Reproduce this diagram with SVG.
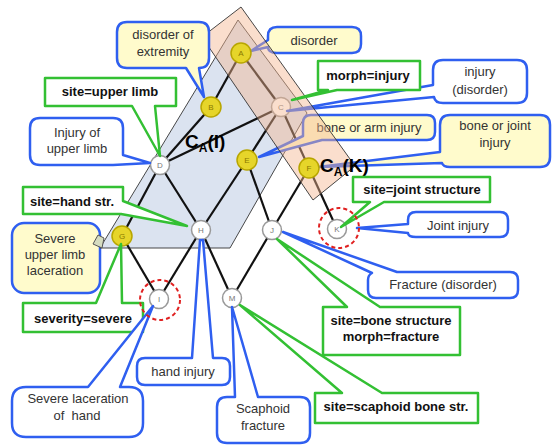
<svg xmlns="http://www.w3.org/2000/svg" width="553" height="445" viewBox="0 0 553 445">
<style>
.bw{fill:#fff;stroke:#2f5ff0;stroke-width:2.5;stroke-linejoin:round}
.by{fill:#fffbcc;stroke:#2f5ff0;stroke-width:2.5;stroke-linejoin:round}
.gc{fill:#fff;stroke:#33c033;stroke-width:2.5;stroke-linejoin:round}
.t{font-family:"Liberation Sans",Arial,sans-serif;font-size:13px;fill:#333;text-anchor:middle}
.tg{font-family:"Liberation Sans",Arial,sans-serif;font-size:13px;font-weight:bold;fill:#111;text-anchor:middle}
.ca{font-family:"Liberation Sans",Arial,sans-serif;font-size:19px;font-weight:bold;fill:#000}
.edge{stroke:#111;stroke-width:2.2;fill:none}
.nw{fill:#fff;stroke:#999;stroke-width:1.5}
.ny{fill:#e6d52a;stroke:#b8a600;stroke-width:1.5}
.nl{font-family:"Liberation Sans",Arial,sans-serif;font-size:8px;fill:#777;text-anchor:middle}
.nly{font-family:"Liberation Sans",Arial,sans-serif;font-size:8px;fill:#8a7a00;text-anchor:middle}
.ring{fill:none;stroke:#e02020;stroke-width:2;stroke-dasharray:4 3}
</style>

<g id="callout-severe-upper-limb">
<rect class="by" x="12" y="223" width="88" height="70" rx="12"/>
<text class="t" x="55" y="243">Severe</text>
<text class="t" x="55" y="259">upper limb</text>
<text class="t" x="55" y="275">laceration</text>
</g>

<g id="region-CA-I">
<polygon points="238,20 307,113 230,248 100,248" fill="#dbe3f0" stroke="#333" stroke-width="0.9"/>
<polygon points="93,244 98,235 104,238 102,248" fill="#d5dcc0" stroke="#555" stroke-width="1"/>
</g>

<g id="connectors">
<line class="edge" x1="241" y1="53" x2="211" y2="107"/>
<line class="edge" x1="241" y1="53" x2="281" y2="107"/>
<line class="edge" x1="211" y1="107" x2="160" y2="165"/>
<line class="edge" x1="160" y1="165" x2="281" y2="107"/>
<line class="edge" x1="281" y1="107" x2="247" y2="160"/>
<line class="edge" x1="281" y1="107" x2="309" y2="168"/>
<line class="edge" x1="160" y1="165" x2="122" y2="236"/>
<line class="edge" x1="160" y1="165" x2="201" y2="230"/>
<line class="edge" x1="247" y1="160" x2="201" y2="230"/>
<line class="edge" x1="247" y1="160" x2="272" y2="230"/>
<line class="edge" x1="309" y1="168" x2="272" y2="230"/>
<line class="edge" x1="309" y1="168" x2="337" y2="229"/>
<line class="edge" x1="122" y1="236" x2="159" y2="299"/>
<line class="edge" x1="201" y1="230" x2="159" y2="299"/>
<line class="edge" x1="201" y1="230" x2="232" y2="298"/>
<line class="edge" x1="272" y1="230" x2="232" y2="298"/>
</g>

<g id="node-C"><circle class="nw" cx="281" cy="107" r="9.5"/><text class="nl" x="281" y="110">C</text></g>
<g id="node-D"><circle class="nw" cx="160" cy="165" r="9.5"/><text class="nl" x="160" y="168">D</text></g>
<g id="node-H"><circle class="nw" cx="201" cy="230" r="9.5"/><text class="nl" x="201" y="233">H</text></g>
<g id="node-J"><circle class="nw" cx="272" cy="230" r="9.5"/><text class="nl" x="272" y="233">J</text></g>
<g id="node-K"><circle class="nw" cx="337" cy="229" r="9.5"/><text class="nl" x="337" y="232">K</text></g>
<g id="node-I"><circle class="nw" cx="159" cy="299" r="9.5"/><text class="nl" x="159" y="302">I</text></g>
<g id="node-M"><circle class="nw" cx="232" cy="298" r="9.5"/><text class="nl" x="232" y="301">M</text></g>

<g id="callout-disorder">
<path class="by" d="M277,27 H352 Q361,27 361,36 V44 Q361,53 352,53 H277 Q268,53 268,47 L251,51 L268,40 V36 Q268,27 277,27 Z"/>
<text class="t" x="314" y="45">disorder</text>
</g>
<g id="callout-injury-disorder">
<path class="bw" d="M443,60 H517 Q527,60 527,70 V93 Q527,103 517,103 H443 Q435,103 434,97 L287,111 L433,85 V70 Q433,60 443,60 Z"/>
<text class="t" x="480" y="76">injury</text>
<text class="t" x="480" y="94">(disorder)</text>
</g>
<g id="callout-bone-arm">
<path class="by" d="M311,115 H427 Q435,115 435,123 V132 Q435,140 427,140 H322 L259,157 L303,136 V123 Q303,115 311,115 Z"/>
<text class="t" x="369" y="132">bone or arm injury</text>
</g>
<g id="callout-bone-joint">
<path class="by" d="M450,115 H540 Q550,115 550,125 V157 Q550,167 540,167 H450 Q443,167 442,163 L318,167 L440,152 V125 Q440,115 450,115 Z"/>
<text class="t" x="495" y="130">bone or joint</text>
<text class="t" x="495" y="147">injury</text>
</g>

<g id="region-CA-K">
<polygon points="241,7 202,37 313,200 355,166" fill="rgb(244,182,144)" fill-opacity="0.45" stroke="#333" stroke-width="0.9"/>
</g>

<g id="node-A"><circle class="ny" cx="241" cy="53" r="10"/><text class="nly" x="241" y="56">A</text></g>
<g id="node-B"><circle class="ny" cx="211" cy="107" r="10"/><text class="nly" x="211" y="110">B</text></g>
<g id="node-E"><circle class="ny" cx="247" cy="160" r="10"/><text class="nly" x="247" y="163">E</text></g>
<g id="node-F"><circle class="ny" cx="309" cy="168" r="10"/><text class="nly" x="309" y="171">F</text></g>
<g id="node-G"><circle class="ny" cx="122" cy="236" r="10"/><text class="nly" x="122" y="239">G</text></g>

<g id="label-CA-I"><text class="ca" x="185" y="148">C<tspan font-size="12" dy="4">A</tspan><tspan dy="-4">(I)</tspan></text></g>
<g id="label-CA-K"><text class="ca" x="320" y="172">C<tspan font-size="12" dy="4">A</tspan><tspan dy="-4">(K)</tspan></text></g>

<g id="callout-disorder-extremity">
<path class="by" d="M127,22 H199 Q209,22 209,32 V58 Q209,68 199,68 L204,97 L186,68 H127 Q117,68 117,58 V32 Q117,22 127,22 Z"/>
<text class="t" x="163" y="39">disorder of</text>
<text class="t" x="163" y="56">extremity</text>
</g>
<g id="callout-site-upper-limb">
<path class="gc" d="M45,78 H176 V106 H155 L160,156 L132,106 H45 Z"/>
<text class="tg" x="110" y="96">site=upper limb</text>
</g>
<g id="callout-injury-upper-limb">
<path class="bw" d="M40,118 H113 Q123,118 123,128 V155 L150,163 L113,165 H40 Q30,165 30,155 V128 Q30,118 40,118 Z"/>
<text class="t" x="77" y="137">Injury of</text>
<text class="t" x="77" y="153">upper limb</text>
</g>
<g id="callout-morph-injury">
<path class="gc" d="M318,61 H420 V90 H337 L292,100 L328,90 H318 Z"/>
<text class="tg" x="368" y="80">morph=injury</text>
</g>
<g id="callout-site-hand">
<path class="gc" d="M23,187 H123 V201 L187,226 L121,214 H23 Z"/>
<text class="tg" x="72" y="206">site=hand str.</text>
</g>
<g id="callout-severity">
<path class="gc" d="M23,303 H96 L121,244 L122,303 H143 V332 H23 Z"/>
<text class="tg" x="83" y="323">severity=severe</text>
</g>
<g id="callout-site-joint">
<path class="gc" d="M353,177 H490 V202 H384 L341,227 L370,202 H353 Z"/>
<text class="tg" x="422" y="194">site=joint structure</text>
</g>
<g id="callout-joint-injury">
<path class="bw" d="M416,212 H500 Q508,212 508,220 V229 Q508,237 500,237 H416 Q408,237 408,233 L357,228 L408,224 V220 Q408,212 416,212 Z"/>
<text class="t" x="458" y="230">Joint injury</text>
</g>
<g id="callout-fracture">
<path class="bw" d="M372,273 L283,232 L397,272 H510 Q518,272 518,280 V290 Q518,298 510,298 H376 Q368,298 368,290 V280 Q368,275 372,273 Z"/>
<text class="t" x="443" y="289">Fracture (disorder)</text>
</g>
<g id="callout-site-bone">
<path class="gc" d="M323,307 H347 L277,239 L380,307 H460 V355 H323 Z"/>
<text class="tg" x="391" y="325">site=bone structure</text>
<text class="tg" x="391" y="341">morph=fracture</text>
</g>
<g id="callout-site-scaphoid">
<path class="gc" d="M315,393 H342 L240,305 L382,393 H478 V423 H315 Z"/>
<text class="tg" x="396" y="411">site=scaphoid bone str.</text>
</g>
<g id="callout-severe-laceration-hand">
<path class="bw" d="M26,387 H88 L153,306 L120,387 H129 Q143,387 143,401 V423 Q143,437 129,437 H26 Q12,437 12,423 V401 Q12,387 26,387 Z"/>
<text class="t" x="78" y="403">Severe laceration</text>
<text class="t" x="77" y="420" xml:space="preserve">of  hand</text>
</g>
<g id="callout-hand-injury">
<path class="bw" d="M145,358 H192 L200,240 L203,240 L213,358 H222 Q230,358 230,366 V377 Q230,385 222,385 H145 Q137,385 137,377 V366 Q137,358 145,358 Z"/>
<text class="t" x="183" y="376">hand injury</text>
</g>
<g id="callout-scaphoid">
<path class="bw" d="M227,397 H235 L232,307 L258,397 H300 Q310,397 310,407 V433 Q310,443 300,443 H227 Q217,443 217,433 V407 Q217,397 227,397 Z"/>
<text class="t" x="263" y="413">Scaphoid</text>
<text class="t" x="263" y="430">fracture</text>
</g>

<g id="rings">
<circle class="ring" cx="339" cy="228" r="20"/>
<circle class="ring" cx="160" cy="300" r="20"/>
</g>
</svg>
